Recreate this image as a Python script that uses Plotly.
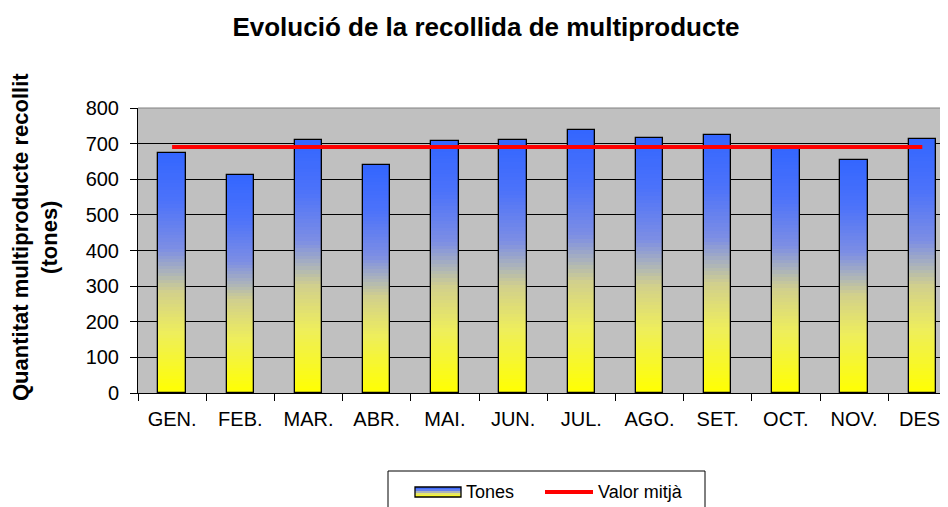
import plotly.graph_objects as go

# ---- data ----
months = ["GEN.", "FEB.", "MAR.", "ABR.", "MAI.", "JUN.", "JUL.", "AGO.", "SET.", "OCT.", "NOV.", "DES."]
tones = [675, 613, 711, 639, 706, 709, 737, 717, 725, 688, 655, 712]
mean_value = sum(tones) / len(tones)

title_text = "Evolució de la recollida de multiproducte"
ytitle_text = "Quantitat multiproducte recollit<br>(tones)"
legend_labels = ["Tones", "Valor mitjà"]

# ---- layout geometry (pixels, reference screen coords) ----
OFF = 8  # page body margin
W, H = 948 - OFF, 507 - OFF
PL, PT, PW, PH = 138, 108, 810, 285   # plot area in screen coords
FONT = "Liberation Sans, Arial, sans-serif"


def px(x):
    return (x - PL) / PW


def py(y):
    return 1 - (y - PT) / PH


# gradient stops: fraction from bottom -> rgb
stops = [
    (0.00, (255, 255, 0)),
    (0.25, (238, 238, 92)),
    (0.42, (210, 208, 140)),
    (0.50, (172, 180, 186)),
    (0.60, (125, 142, 228)),
    (0.80, (76, 114, 250)),
    (1.00, (51, 102, 255)),
]


def grad(t):
    for (t0, c0), (t1, c1) in zip(stops[:-1], stops[1:]):
        if t0 <= t <= t1:
            f = (t - t0) / (t1 - t0)
            c = [round(a + (b - a) * f) for a, b in zip(c0, c1)]
            return "rgb(%d,%d,%d)" % tuple(c)
    return "rgb(51,102,255)"


N = 70
BAR_W = 0.4
fig = go.Figure()
for k in range(N):
    fig.add_trace(go.Bar(
        x=months,
        y=[v / N for v in tones],
        base=[v * k / N for v in tones],
        width=BAR_W,
        marker=dict(color=grad((k + 0.5) / N), line=dict(width=0)),
        showlegend=False, hoverinfo="skip",
    ))

# bar outline
fig.add_trace(go.Bar(
    x=months, y=tones, width=BAR_W, name=legend_labels[0],
    marker=dict(color="rgba(0,0,0,0)", line=dict(color="black", width=1.3)),
    showlegend=False,
))

# mean line
fig.add_trace(go.Scatter(
    x=months, y=[mean_value] * len(months), mode="lines", name=legend_labels[1],
    line=dict(color="#FF0000", width=4), showlegend=False,
))

shapes = []
shapes.append(dict(type="line", xref="paper", yref="paper", x0=0, x1=1, y0=1, y1=1,
                   line=dict(color="#808080", width=1)))
shapes.append(dict(type="rect", xref="paper", yref="paper",
                   x0=px(388), x1=px(705), y0=py(530), y1=py(471),
                   line=dict(color="black", width=1), fillcolor="white"))
sw_top, sw_bot = 487, 497
ns = 5
for i in range(ns):
    y0 = sw_top + (sw_bot - sw_top) * i / ns
    y1 = sw_top + (sw_bot - sw_top) * (i + 1) / ns
    shapes.append(dict(type="rect", xref="paper", yref="paper",
                       x0=px(415), x1=px(461), y0=py(y1), y1=py(y0),
                       line=dict(width=0), fillcolor=grad(1 - (i + 0.5) / ns)))
shapes.append(dict(type="rect", xref="paper", yref="paper",
                   x0=px(415), x1=px(461), y0=py(sw_bot), y1=py(sw_top),
                   line=dict(color="black", width=1.3), fillcolor="rgba(0,0,0,0)"))
shapes.append(dict(type="line", xref="paper", yref="paper",
                   x0=px(545), x1=px(593), y0=py(492), y1=py(492),
                   line=dict(color="#FF0000", width=4)))

annotations = [
    dict(text=ytitle_text, xref="paper", yref="paper", x=px(35), y=py(237),
         xanchor="center", yanchor="middle", showarrow=False, textangle=-90,
         font=dict(family=FONT, size=22, color="black", weight="bold")),
    dict(text=legend_labels[0], xref="paper", yref="paper", x=px(464), y=py(492),
         xanchor="left", yanchor="middle", showarrow=False,
         font=dict(family=FONT, size=18, color="black")),
    dict(text=legend_labels[1], xref="paper", yref="paper", x=px(596), y=py(492),
         xanchor="left", yanchor="middle", showarrow=False,
         font=dict(family=FONT, size=18, color="black")),
]

fig.update_layout(
    width=W, height=H,
    margin=dict(l=PL - OFF, r=W - (PL - OFF) - PW, t=PT - OFF, b=H - (PT - OFF) - PH,
                autoexpand=False),
    paper_bgcolor="white", plot_bgcolor="#C0C0C0",
    barmode="overlay", bargap=0,
    title=dict(text=title_text, xref="container", yref="container",
               x=(486 - OFF) / W, y=1 - (27 - OFF) / H, xanchor="center", yanchor="middle",
               font=dict(family=FONT, size=26, color="black", weight="bold")),
    font=dict(family=FONT, color="black"),
    shapes=shapes, annotations=annotations,
    showlegend=False,
)
fig.update_xaxes(
    range=[-0.5, -0.5 + PW / 68.2], showgrid=False,
    showline=True, linecolor="black", linewidth=1,
    ticks="outside", tickson="boundaries", ticklen=7, tickcolor="black",
    ticklabelstandoff=8,
    tickfont=dict(family=FONT, size=20, color="black"),
    fixedrange=True,
)
fig.update_yaxes(
    range=[0, 800], dtick=100, showgrid=True, gridcolor="black", gridwidth=1,
    showline=True, linecolor="black", linewidth=1, zeroline=False,
    ticks="outside", ticklen=7, tickcolor="black",
    ticklabelstandoff=7,
    tickfont=dict(family=FONT, size=20, color="black"),
    fixedrange=True,
)

fig.write_html("out.html")
